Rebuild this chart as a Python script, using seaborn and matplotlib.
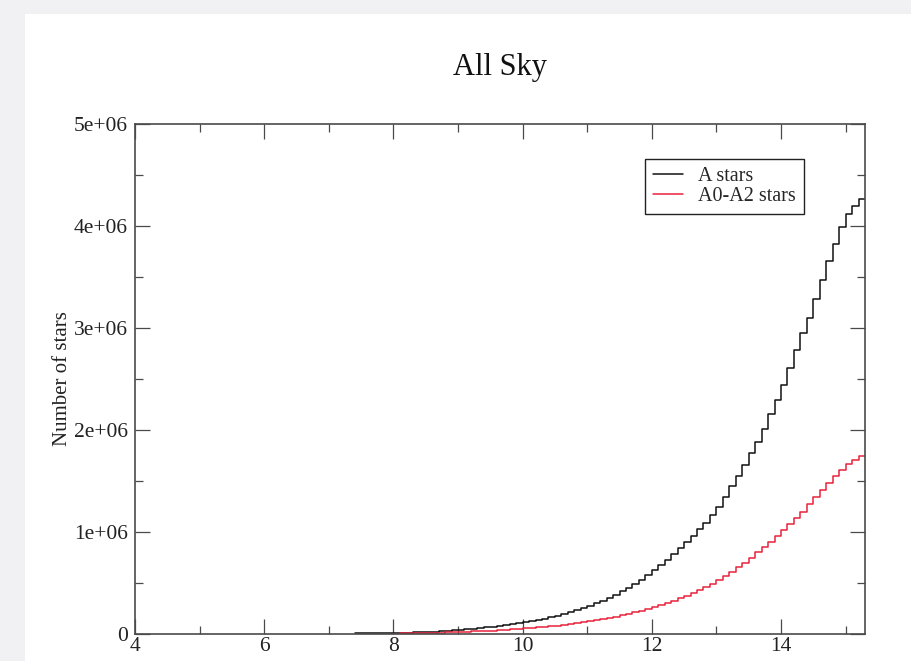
import numpy as np
import pandas as pd
import matplotlib
matplotlib.use("Agg")
import matplotlib.pyplot as plt
from matplotlib.patches import Rectangle
from matplotlib.ticker import MultipleLocator, FuncFormatter
import seaborn as sns

# Histogram of star counts per 0.1 mag bin (values in millions of stars)
bin_width = 0.1
a_start = 7.4
a_counts_m = [
    0.005, 0.005, 0.006, 0.007, 0.008, 0.009,                                   # 7.4 - 7.9
    0.010, 0.012, 0.014, 0.016, 0.018, 0.020, 0.023, 0.027, 0.031, 0.036,       # 8.0 - 8.9
    0.041, 0.046, 0.052, 0.058, 0.064, 0.071, 0.078, 0.086, 0.095, 0.105,       # 9.0 - 9.9
    0.115, 0.126, 0.138, 0.151, 0.165, 0.180, 0.196, 0.213, 0.231, 0.252,       # 10.0 - 10.9
    0.275, 0.300, 0.327, 0.356, 0.387, 0.420, 0.455, 0.492, 0.532, 0.575,       # 11.0 - 11.9
    0.625, 0.675, 0.725, 0.780, 0.840, 0.900, 0.965, 1.030, 1.090, 1.170,       # 12.0 - 12.9
    1.250, 1.340, 1.450, 1.550, 1.660, 1.770, 1.880, 2.010, 2.160, 2.290,       # 13.0 - 13.9
    2.440, 2.610, 2.780, 2.950, 3.100, 3.280, 3.470, 3.660, 3.820, 3.990,       # 14.0 - 14.9
    4.120, 4.200, 4.260,                                                        # 15.0 - 15.2
]
a02_start = 8.0
a02_counts_m = [
    0.004, 0.005, 0.006, 0.007, 0.008, 0.009, 0.011, 0.013, 0.015, 0.017,       # 8.0 - 8.9
    0.019, 0.022, 0.025, 0.028, 0.031, 0.034, 0.038, 0.042, 0.046, 0.050,       # 9.0 - 9.9
    0.054, 0.059, 0.064, 0.070, 0.076, 0.083, 0.090, 0.098, 0.106, 0.115,       # 10.0 - 10.9
    0.125, 0.135, 0.146, 0.158, 0.170, 0.183, 0.197, 0.212, 0.228, 0.245,       # 11.0 - 11.9
    0.260, 0.280, 0.300, 0.325, 0.350, 0.375, 0.400, 0.430, 0.460, 0.495,       # 12.0 - 12.9
    0.530, 0.570, 0.610, 0.655, 0.700, 0.750, 0.800, 0.850, 0.905, 0.960,       # 13.0 - 13.9
    1.020, 1.080, 1.140, 1.200, 1.270, 1.340, 1.410, 1.480, 1.550, 1.610,       # 14.0 - 14.9
    1.665, 1.710, 1.750,                                                        # 15.0 - 15.2
]
series_labels = ["A stars", "A0-A2 stars"]
series_colors = ["#111111", "#e8233a"]


def step_frame(start, counts_m, label):
    n = len(counts_m)
    edges = np.round(start + bin_width * np.arange(n + 1), 2)
    counts = np.asarray(counts_m) * 1e6
    # repeat the last height so the final bin is drawn to its right edge
    heights = np.append(counts, counts[-1])
    return pd.DataFrame({"mag": edges, "count": heights, "series": label})


df = pd.concat([
    step_frame(a_start, a_counts_m, series_labels[0]),
    step_frame(a02_start, a02_counts_m, series_labels[1]),
], ignore_index=True)

sns.set_style("ticks")
plt.rcParams["font.family"] = ["Liberation Serif", "DejaVu Serif"]

W, H = 911, 661
fig = plt.figure(figsize=(W / 100, H / 100), dpi=100, facecolor="#f1f1f3")
# white page area inside the grey margin
fig.patches.append(Rectangle((25 / W, 0), 1 - 25 / W, 1 - 14 / H,
                             transform=fig.transFigure, facecolor="white",
                             edgecolor="none", zorder=-10))

ax = fig.add_axes([135 / W, 1 - 634 / H, 730 / W, 510 / H])
ax.set_zorder(5)
ax.set_facecolor("white")

for label, color in zip(series_labels, series_colors):
    sub = df[df["series"] == label]
    sns.lineplot(data=sub, x="mag", y="count", drawstyle="steps-post",
                 color=color, linewidth=1.1, label=label, ax=ax,
                 estimator=None, sort=True)

ax.set_xlim(4, 15.3)
ax.set_ylim(0, 5e6)
ax.xaxis.set_major_locator(MultipleLocator(2))
ax.xaxis.set_minor_locator(MultipleLocator(1))
ax.yaxis.set_major_locator(MultipleLocator(1e6))
ax.yaxis.set_minor_locator(MultipleLocator(5e5))
ax.yaxis.set_major_formatter(FuncFormatter(lambda v, _: "0" if v == 0 else f"{v:.0e}"))
ax.xaxis.set_major_formatter(FuncFormatter(lambda v, _: f"{v:g}"))

spine_color = "#4a4a4a"
for sp in ax.spines.values():
    sp.set_visible(True)
    sp.set_color(spine_color)
    sp.set_linewidth(1.2)

ax.tick_params(which="both", direction="in", top=True, right=True,
               color=spine_color, width=0.9, labelcolor="#222222",
               labelsize=15.5)
ax.tick_params(which="major", length=10.5)
ax.tick_params(which="minor", length=5.5)
ax.tick_params(axis="x", pad=2)
ax.tick_params(axis="y", pad=5)

ax.set_xlabel("")
ax.set_ylabel("Number of stars", fontsize=15, color="#222222")
ax.yaxis.set_label_coords((72 - 135) / 730, 0.5)

fig.text(500 / W, 1 - 68 / H, "All Sky", ha="center", va="center",
         fontsize=22, color="#111111")

leg = ax.legend(loc="upper left", bbox_to_anchor=((645 - 135) / 730, (634 - 159) / 510),
                borderaxespad=0, frameon=True, fancybox=False, fontsize=14.5,
                handlelength=1.5, handletextpad=0.75, borderpad=0.4,
                labelspacing=0.02)
leg.get_frame().set_edgecolor("#222222")
leg.get_frame().set_linewidth(1.0)
leg.get_frame().set_facecolor("white")
leg.get_frame().set_alpha(1)

fig.savefig("out.png", dpi=100, facecolor=fig.get_facecolor())
